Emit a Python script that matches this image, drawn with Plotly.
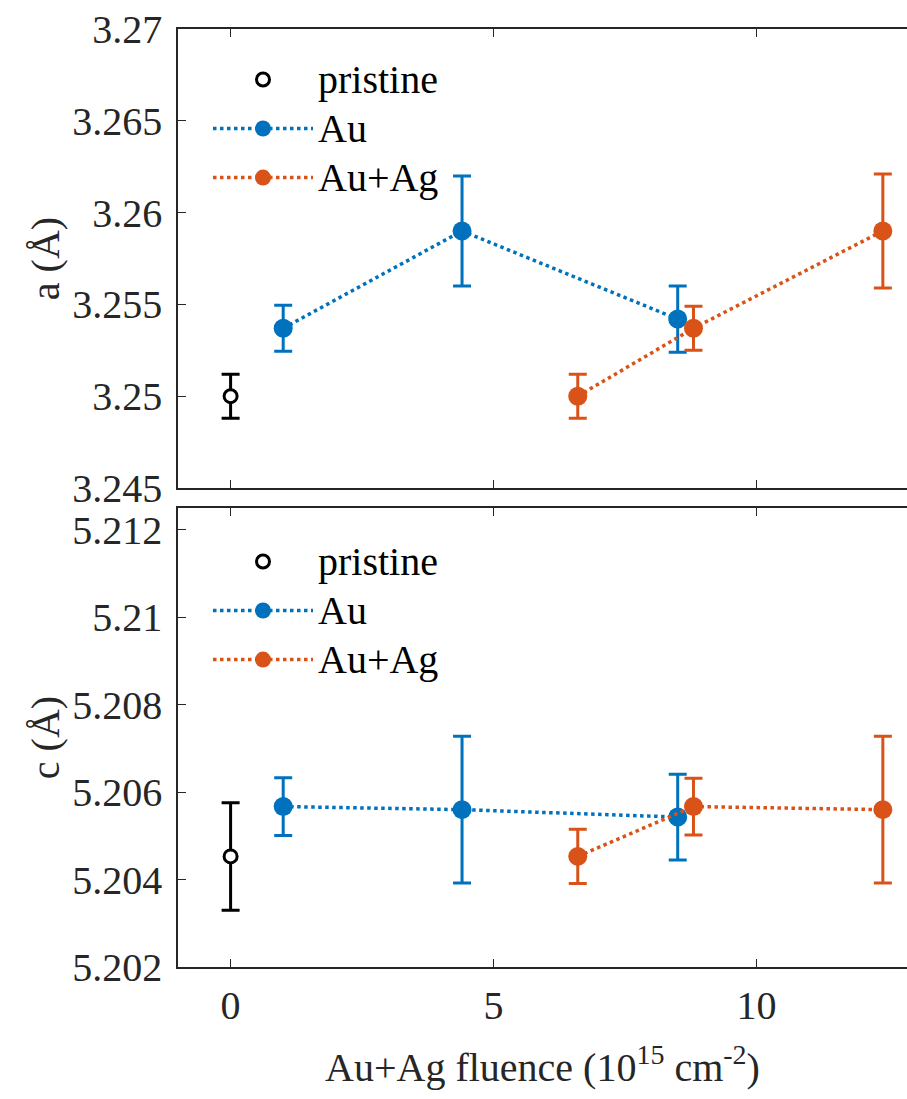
import plotly.graph_objects as go
from plotly.subplots import make_subplots

# ---- data ----
x_pristine = [0]
x_au = [1.0, 4.4, 8.5]
x_auag = [6.6, 8.8, 12.4]

a_pristine = [3.25]
a_pristine_err = [0.0012]
a_au = [3.2537, 3.259, 3.2542]
a_au_err = [0.00125, 0.003, 0.0018]
a_auag = [3.25, 3.2537, 3.259]
a_auag_err = [0.0012, 0.0012, 0.0031]

c_pristine = [5.20453]
c_pristine_err = [0.00123]
c_au = [5.20567, 5.2056, 5.20543]
c_au_err = [0.00066, 0.00168, 0.00098]
c_auag = [5.20453, 5.20567, 5.2056]
c_auag_err = [0.00062, 0.00065, 0.00168]

a_ticks = [3.245, 3.25, 3.255, 3.26, 3.265, 3.27]
a_ticktext = ["3.245", "3.25", "3.255", "3.26", "3.265", "3.27"]
c_ticks = [5.202, 5.204, 5.206, 5.208, 5.21, 5.212]
c_ticktext = ["5.202", "5.204", "5.206", "5.208", "5.21", "5.212"]
x_ticks = [0, 5, 10]
x_ticktext = ["0", "5", "10"]

series_names = ["pristine", "Au", "Au+Ag"]

BLUE = "#0072BD"
ORANGE = "#D95319"
BLACK = "#000000"
AX = "#262626"
FONT = "Liberation Serif"
FS = 40
LEG_FS = 35.4

W, H = 907, 1099
L, R, T, B = 178, 0, 29, 132
plot_h = H - T - B

fig = make_subplots(rows=2, cols=1, shared_xaxes=False, vertical_spacing=0)


def leg_name(s):
    return "<span style='font-size:40px'>" + s + "</span>"


def add_series(row, x, y, err, color, name, legend, pristine=False):
    if pristine:
        marker = dict(symbol="circle", size=13, color="white",
                      line=dict(color=color, width=3))
        mode = "markers"
        line = None
    else:
        marker = dict(symbol="circle", size=19, color=color,
                      line=dict(color=color, width=0))
        mode = "lines+markers"
        line = dict(color=color, width=3.5, dash="dot")
    tr = go.Scatter(
        x=x, y=y, mode=mode, name=leg_name(name), legend=legend,
        marker=marker,
        error_y=dict(type="data", array=err, visible=True,
                     color=color, thickness=3, width=9),
    )
    if line is not None:
        tr.line = line
    fig.add_trace(tr, row=row, col=1)


add_series(1, x_pristine, a_pristine, a_pristine_err, BLACK, series_names[0], "legend", True)
add_series(1, x_au, a_au, a_au_err, BLUE, series_names[1], "legend")
add_series(1, x_auag, a_auag, a_auag_err, ORANGE, series_names[2], "legend")
add_series(2, x_pristine, c_pristine, c_pristine_err, BLACK, series_names[0], "legend2", True)
add_series(2, x_au, c_au, c_au_err, BLUE, series_names[1], "legend2")
add_series(2, x_auag, c_auag, c_auag_err, ORANGE, series_names[2], "legend2")

top_dom = [(H - B - 488) / plot_h, 1.0]
bot_dom = [0.0, (H - B - 508) / plot_h]

xr = [-1.0, -1.0 + (W - L - R) / 52.6]

common_x = dict(range=xr, tickvals=x_ticks, ticks="inside", ticklen=8,
                tickwidth=1.3, tickcolor=AX, showline=True, linecolor=AX,
                linewidth=1.5, mirror="ticks", showgrid=False, zeroline=False,
                tickfont=dict(family=FONT, size=FS, color=AX))
common_y = dict(ticks="inside", ticklen=8, tickwidth=1.3, tickcolor=AX,
                showline=True, linecolor=AX, linewidth=1.5, mirror=False,
                showgrid=False, zeroline=False, ticklabelstandoff=6,
                tickfont=dict(family=FONT, size=FS, color=AX))

fig.update_xaxes(**common_x, showticklabels=False, row=1, col=1)
fig.update_xaxes(**common_x, ticktext=x_ticktext, ticklabelstandoff=2,
                 title=dict(text="Au+Ag fluence (10<sup>15</sup> cm<sup>-2</sup>)",
                            font=dict(family=FONT, size=FS, color=AX), standoff=26),
                 row=2, col=1)
fig.update_yaxes(**common_y, range=[3.245, 3.27], tickvals=a_ticks, ticktext=a_ticktext,
                 domain=top_dom,
                 title=dict(text="a (Å)", font=dict(family=FONT, size=FS, color=AX), standoff=0),
                 row=1, col=1)
fig.update_yaxes(**common_y, range=[5.202, 5.2125], tickvals=c_ticks, ticktext=c_ticktext,
                 domain=bot_dom,
                 title=dict(text="c (Å)", font=dict(family=FONT, size=FS, color=AX), standoff=0),
                 row=2, col=1)

leg_common = dict(xanchor="left", yanchor="top", bgcolor="rgba(0,0,0,0)",
                  itemwidth=100, font=dict(family=FONT, size=LEG_FS, color=BLACK),
                  tracegroupgap=0, borderwidth=0)
fig.update_layout(
    width=W, height=H,
    margin=dict(l=L, r=R, t=T, b=B),
    paper_bgcolor="white", plot_bgcolor="white",
    showlegend=True,
    legend=dict(**leg_common, x=(208 - L) / (W - L - R), y=(H - B - 50) / plot_h),
    legend2=dict(**leg_common, x=(208 - L) / (W - L - R), y=(H - B - 532) / plot_h),
)

fig.write_html("out.html")
